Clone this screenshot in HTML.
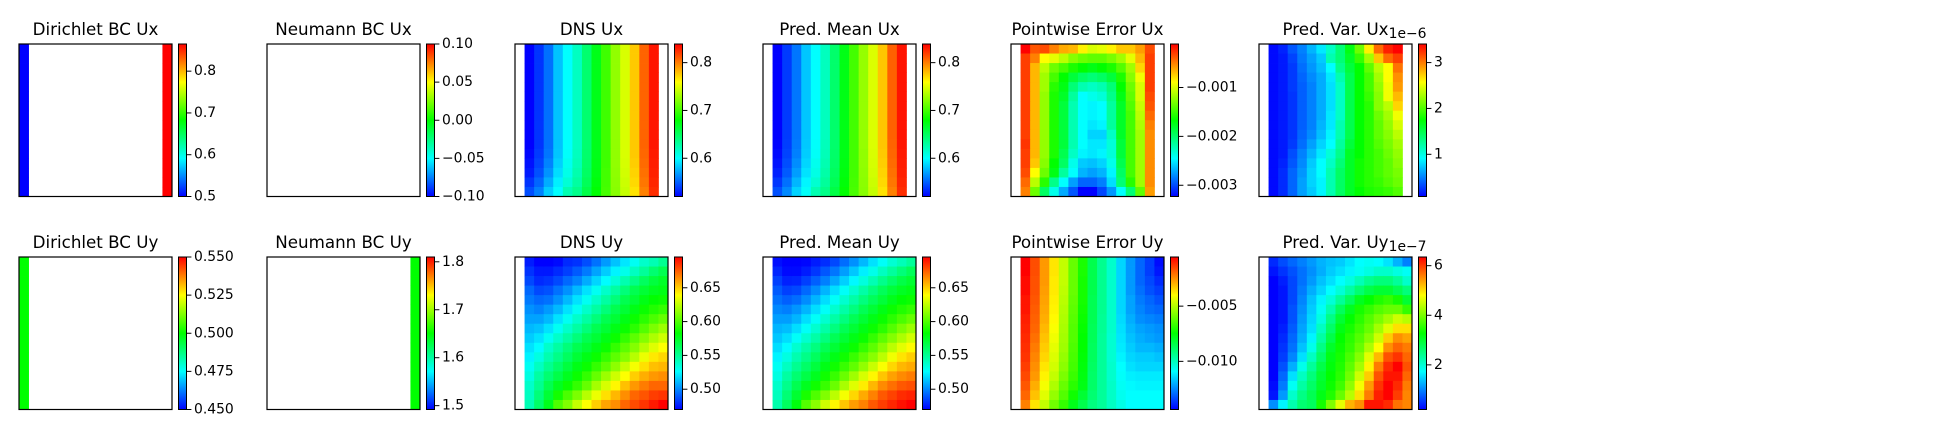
<!DOCTYPE html>
<html><head><meta charset="utf-8">
<style>
html,body{margin:0;padding:0;background:#fff;}
svg{display:block;}
text{font-family:"DejaVu Sans","Liberation Sans",sans-serif;fill:#000;}
</style></head>
<body>
<svg id="fig" width="1936" height="440" viewBox="0 0 1936 440" xmlns="http://www.w3.org/2000/svg">
<defs>
<linearGradient id="cmap" x1="0" y1="1" x2="0" y2="0">
<stop offset="0" stop-color="rgb(0,0,255)"/>
<stop offset="0.25" stop-color="rgb(0,255,255)"/>
<stop offset="0.5" stop-color="rgb(0,255,0)"/>
<stop offset="0.75" stop-color="rgb(255,255,0)"/>
<stop offset="1" stop-color="rgb(255,0,0)"/>
</linearGradient>
</defs>
</svg>
<script>
// ---------- data ----------
const dirichletUxLeft = [0.5,0.5,0.5,0.5,0.5,0.5,0.5,0.5,0.5,0.5,0.5,0.5,0.5,0.5,0.5,0.5];
const dirichletUxRight = [0.865,0.865,0.865,0.865,0.865,0.865,0.865,0.865,0.865,0.865,0.865,0.865,0.865,0.865,0.865,0.865];
const dirichletUyLeft = [0.5,0.5,0.5,0.5,0.5,0.5,0.5,0.5,0.5,0.5,0.5,0.5,0.5,0.5,0.5,0.5];
const neumannUyRight = [1.651,1.651,1.651,1.651,1.651,1.651,1.651,1.651,1.651,1.651,1.651,1.651,1.651,1.651,1.651,1.651];

const dnsUx = [
[null,.520,.536,.555,.581,.600,.619,.645,.672,.699,.725,.747,.776,.808,.832,null],
[null,.520,.536,.555,.581,.600,.619,.645,.672,.699,.725,.747,.776,.808,.832,null],
[null,.520,.536,.555,.581,.600,.619,.645,.672,.699,.725,.747,.776,.808,.832,null],
[null,.520,.536,.555,.581,.600,.619,.645,.672,.699,.725,.747,.776,.808,.832,null],
[null,.520,.536,.555,.581,.600,.619,.645,.672,.699,.725,.747,.776,.808,.832,null],
[null,.520,.536,.555,.581,.600,.619,.645,.672,.699,.725,.747,.776,.808,.832,null],
[null,.520,.536,.555,.581,.600,.619,.645,.672,.699,.725,.747,.776,.808,.832,null],
[null,.520,.536,.555,.581,.600,.619,.645,.672,.699,.725,.747,.776,.808,.832,null],
[null,.520,.536,.555,.581,.600,.619,.645,.672,.699,.725,.747,.776,.808,.832,null],
[null,.520,.536,.555,.581,.600,.619,.645,.672,.699,.725,.747,.776,.808,.832,null],
[null,.520,.536,.555,.581,.600,.619,.645,.672,.699,.725,.747,.776,.808,.832,null],
[null,.522,.538,.557,.582,.601,.620,.646,.672,.699,.725,.747,.776,.807,.831,null],
[null,.525,.541,.561,.585,.604,.622,.647,.673,.699,.725,.746,.775,.806,.830,null],
[null,.528,.545,.566,.589,.607,.625,.649,.674,.700,.724,.745,.773,.804,.829,null],
[null,.536,.552,.574,.595,.613,.629,.652,.676,.700,.723,.743,.771,.802,.827,null],
[null,.544,.560,.584,.600,.624,.636,.657,.679,.701,.722,.741,.768,.799,.825,null]
];
const predUx = [
[null,.520,.538,.557,.582,.600,.620,.646,.673,.700,.726,.748,.777,.809,.833,null],
[null,.520,.538,.557,.582,.600,.620,.646,.673,.700,.726,.748,.777,.809,.833,null],
[null,.520,.538,.557,.582,.600,.620,.646,.673,.700,.726,.748,.777,.809,.833,null],
[null,.520,.538,.557,.582,.600,.620,.646,.673,.700,.726,.748,.777,.809,.833,null],
[null,.520,.538,.557,.582,.600,.620,.646,.673,.700,.726,.748,.777,.809,.833,null],
[null,.520,.538,.557,.582,.600,.620,.646,.673,.700,.726,.748,.777,.809,.833,null],
[null,.520,.538,.557,.582,.600,.620,.646,.673,.700,.726,.748,.777,.809,.833,null],
[null,.520,.538,.557,.582,.600,.620,.646,.673,.700,.726,.748,.777,.809,.833,null],
[null,.520,.538,.557,.582,.600,.620,.646,.673,.700,.726,.748,.777,.809,.833,null],
[null,.520,.538,.557,.582,.600,.620,.646,.673,.700,.726,.748,.777,.809,.833,null],
[null,.521,.539,.558,.583,.601,.621,.646,.673,.700,.726,.748,.777,.808,.832,null],
[null,.523,.541,.560,.584,.602,.622,.647,.673,.700,.725,.747,.776,.807,.831,null],
[null,.526,.544,.564,.587,.605,.624,.648,.674,.700,.725,.746,.775,.806,.830,null],
[null,.530,.548,.569,.591,.608,.627,.650,.675,.700,.724,.745,.773,.804,.829,null],
[null,.537,.555,.577,.597,.614,.631,.653,.677,.701,.723,.743,.771,.802,.827,null],
[null,.545,.563,.586,.602,.624,.637,.658,.680,.702,.722,.741,.768,.799,.825,null]
];
const errUx = [ // units of 1e-3
[null,-0.11,-0.37,-0.34,-0.50,-0.63,-0.67,-0.85,-1.01,-0.97,-0.85,-0.72,-0.72,-0.59,-0.34,null],
[null,-0.30,-0.50,-0.89,-0.97,-1.10,-1.26,-1.34,-1.38,-1.38,-1.30,-1.18,-0.97,-0.67,-0.30,null],
[null,-0.30,-0.67,-1.10,-1.34,-1.46,-1.59,-1.67,-1.73,-1.67,-1.59,-1.42,-1.18,-0.76,-0.30,null],
[null,-0.30,-0.67,-1.18,-1.46,-1.67,-1.85,-1.97,-2.03,-1.97,-1.85,-1.59,-1.26,-0.93,-0.30,null],
[null,-0.30,-0.67,-1.18,-1.55,-1.73,-2.03,-2.21,-2.27,-2.21,-2.03,-1.67,-1.34,-1.01,-0.30,null],
[null,-0.30,-0.67,-1.22,-1.59,-1.79,-2.15,-2.45,-2.39,-2.33,-2.09,-1.73,-1.38,-1.01,-0.34,null],
[null,-0.30,-0.67,-1.22,-1.59,-1.85,-2.21,-2.45,-2.48,-2.45,-2.15,-1.79,-1.42,-1.06,-0.37,null],
[null,-0.30,-0.67,-1.22,-1.59,-1.85,-2.21,-2.45,-2.48,-2.45,-2.15,-1.79,-1.46,-1.10,-0.43,null],
[null,-0.30,-0.67,-1.22,-1.59,-1.85,-2.21,-2.45,-2.52,-2.48,-2.15,-1.79,-1.46,-1.14,-0.50,null],
[null,-0.30,-0.67,-1.22,-1.59,-1.85,-2.21,-2.45,-2.58,-2.58,-2.27,-1.79,-1.46,-1.18,-0.54,null],
[null,-0.27,-0.67,-1.22,-1.59,-1.85,-2.21,-2.45,-2.52,-2.52,-2.33,-1.85,-1.46,-1.18,-0.54,null],
[null,-0.30,-0.67,-1.22,-1.59,-1.91,-2.27,-2.48,-2.52,-2.48,-2.33,-1.85,-1.46,-1.18,-0.54,null],
[null,-0.30,-0.72,-1.26,-1.67,-1.97,-2.39,-2.61,-2.64,-2.58,-2.39,-1.91,-1.46,-1.18,-0.54,null],
[null,-0.34,-0.89,-1.34,-1.73,-2.15,-2.45,-2.68,-2.74,-2.68,-2.48,-1.97,-1.46,-1.18,-0.54,null],
[null,-0.43,-1.10,-1.55,-2.09,-2.45,-2.74,-2.92,-2.92,-2.84,-2.55,-2.03,-1.55,-1.18,-0.54,null],
[null,-0.50,-1.34,-1.97,-2.39,-2.71,-2.97,-3.23,-3.23,-3.02,-2.77,-2.45,-2.03,-1.38,-0.59,null]
];
const varUx = [ // units of 1e-6
[null,0.11,0.19,0.36,0.50,0.67,0.84,1.10,1.36,1.68,2.09,2.62,3.06,3.30,3.40,null],
[null,0.11,0.16,0.30,0.47,0.60,0.74,1.17,1.36,1.62,1.92,2.27,2.76,3.06,3.20,null],
[null,0.11,0.16,0.27,0.44,0.57,0.70,0.91,1.29,1.55,1.74,2.05,2.35,2.57,3.03,null],
[null,0.11,0.16,0.27,0.41,0.53,0.64,0.84,1.17,1.49,1.74,1.96,2.27,2.57,2.94,null],
[null,0.11,0.16,0.27,0.39,0.50,0.64,0.81,1.10,1.49,1.74,1.96,2.22,2.53,2.90,null],
[null,0.11,0.16,0.25,0.39,0.50,0.64,0.81,1.10,1.49,1.74,1.92,2.18,2.53,2.80,null],
[null,0.11,0.16,0.25,0.39,0.50,0.64,0.81,1.10,1.49,1.74,1.87,2.18,2.35,2.71,null],
[null,0.11,0.16,0.25,0.39,0.50,0.64,0.84,1.10,1.49,1.74,1.87,2.09,2.27,2.53,null],
[null,0.11,0.16,0.25,0.39,0.50,0.67,0.84,1.17,1.49,1.74,1.87,2.05,2.22,2.44,null],
[null,0.11,0.16,0.25,0.41,0.53,0.70,0.88,1.17,1.49,1.74,1.87,2.05,2.18,2.35,null],
[null,0.11,0.16,0.27,0.44,0.60,0.77,0.91,1.23,1.55,1.74,1.87,2.01,2.13,2.27,null],
[null,0.11,0.16,0.33,0.50,0.67,0.84,1.04,1.29,1.62,1.74,1.87,1.96,2.09,2.22,null],
[null,0.11,0.19,0.36,0.53,0.74,0.91,1.10,1.36,1.62,1.79,1.87,1.96,2.05,2.18,null],
[null,0.11,0.22,0.41,0.57,0.77,0.91,1.17,1.42,1.62,1.79,1.87,1.96,2.05,2.13,null],
[null,0.11,0.22,0.41,0.60,0.77,0.88,1.17,1.42,1.62,1.79,1.87,1.92,2.01,2.09,null],
[null,0.11,0.22,0.41,0.60,0.74,0.88,1.17,1.42,1.62,1.74,1.83,1.87,1.92,2.01,null]
];
const dnsUy = [
[null,.476,.470,.470,.472,.479,.481,.487,.495,.504,.513,.521,.529,.538,.543,.551],
[null,.481,.475,.475,.479,.484,.490,.497,.506,.515,.524,.531,.540,.549,.558,.565],
[null,.486,.479,.481,.486,.493,.499,.508,.517,.526,.535,.544,.553,.562,.569,.574],
[null,.493,.486,.488,.495,.502,.511,.520,.529,.538,.547,.556,.565,.571,.576,.578],
[null,.497,.493,.495,.502,.511,.520,.529,.538,.547,.556,.565,.571,.578,.583,.585],
[null,.502,.499,.504,.511,.520,.529,.538,.547,.556,.565,.571,.578,.585,.590,.594],
[null,.506,.506,.511,.520,.529,.538,.547,.556,.565,.571,.578,.585,.592,.599,.605],
[null,.511,.513,.520,.529,.538,.547,.556,.565,.571,.578,.585,.592,.601,.610,.617],
[null,.515,.520,.529,.538,.547,.556,.565,.571,.578,.585,.594,.603,.612,.621,.628],
[null,.520,.526,.538,.547,.556,.565,.571,.578,.585,.594,.603,.612,.623,.632,.639],
[null,.524,.533,.544,.553,.562,.571,.578,.585,.594,.603,.612,.623,.635,.644,.648],
[null,.529,.540,.551,.560,.569,.578,.585,.594,.603,.614,.626,.637,.646,.653,.655],
[null,.533,.547,.558,.567,.576,.585,.594,.605,.617,.628,.639,.650,.657,.662,.664],
[null,.538,.551,.565,.576,.585,.594,.605,.619,.630,.641,.653,.662,.668,.673,.673],
[null,.540,.556,.571,.587,.599,.610,.623,.635,.646,.655,.664,.673,.677,.682,.684],
[null,.543,.560,.577,.600,.611,.626,.639,.650,.659,.664,.673,.679,.684,.690,.696]
];
const predUy = [
[null,.473,.470,.470,.471,.476,.480,.486,.494,.502,.511,.520,.528,.536,.542,.549],
[null,.478,.472,.472,.476,.482,.489,.496,.505,.514,.523,.531,.540,.548,.556,.563],
[null,.484,.477,.478,.484,.491,.498,.507,.516,.525,.534,.543,.552,.560,.567,.572],
[null,.490,.484,.486,.493,.501,.510,.519,.528,.537,.546,.555,.563,.570,.575,.578],
[null,.495,.491,.494,.501,.510,.519,.528,.537,.546,.555,.563,.570,.577,.582,.585],
[null,.500,.498,.503,.510,.519,.528,.537,.546,.555,.564,.571,.578,.585,.590,.594],
[null,.505,.505,.510,.519,.528,.537,.546,.555,.564,.571,.578,.585,.592,.599,.605],
[null,.510,.512,.519,.528,.537,.546,.555,.564,.571,.578,.585,.592,.601,.610,.617],
[null,.514,.519,.528,.537,.546,.555,.564,.571,.578,.585,.594,.603,.612,.621,.629],
[null,.519,.526,.537,.546,.555,.564,.571,.578,.585,.594,.603,.613,.624,.633,.640],
[null,.524,.533,.544,.553,.562,.571,.578,.586,.595,.604,.613,.624,.636,.645,.650],
[null,.529,.540,.551,.560,.569,.578,.586,.595,.604,.615,.627,.638,.648,.655,.658],
[null,.533,.547,.558,.567,.576,.586,.595,.606,.618,.630,.641,.652,.660,.665,.668],
[null,.538,.552,.565,.576,.586,.595,.606,.620,.632,.643,.655,.665,.671,.676,.678],
[null,.541,.557,.572,.588,.600,.611,.624,.637,.648,.658,.667,.676,.681,.686,.688],
[null,.545,.562,.580,.601,.613,.628,.641,.652,.661,.667,.676,.682,.687,.692,.696]
];
const errUy = [ // units of 1e-3
[null,-0.55,-1.59,-2.62,-3.66,-4.83,-6.07,-7.11,-8.49,-9.39,-10.22,-11.46,-12.29,-12.98,-13.53,-14.22],
[null,-0.55,-1.59,-2.62,-3.66,-4.83,-6.07,-7.11,-8.49,-9.39,-10.22,-11.46,-12.29,-12.98,-13.53,-14.08],
[null,-0.69,-1.65,-2.62,-3.73,-4.83,-6.07,-7.18,-8.49,-9.39,-10.22,-11.46,-12.29,-12.98,-13.39,-13.81],
[null,-0.69,-1.65,-2.69,-3.73,-4.90,-6.07,-7.18,-8.49,-9.39,-10.22,-11.46,-12.29,-12.84,-13.26,-13.53],
[null,-0.83,-1.72,-2.76,-3.80,-4.97,-6.14,-7.18,-8.56,-9.39,-10.22,-11.46,-12.15,-12.70,-12.98,-13.26],
[null,-0.83,-1.79,-2.83,-3.86,-5.04,-6.21,-7.25,-8.56,-9.39,-10.22,-11.46,-12.15,-12.56,-12.84,-12.98],
[null,-0.96,-1.86,-2.90,-3.93,-5.11,-6.28,-7.32,-8.56,-9.46,-10.22,-11.39,-12.01,-12.43,-12.56,-12.70],
[null,-1.03,-1.93,-3.04,-4.07,-5.18,-6.35,-7.39,-8.63,-9.46,-10.22,-11.32,-11.87,-12.15,-12.29,-12.43],
[null,-1.10,-2.07,-3.17,-4.21,-5.25,-6.35,-7.46,-8.63,-9.53,-10.29,-11.25,-11.74,-12.01,-12.15,-12.29],
[null,-1.17,-2.21,-3.31,-4.35,-5.31,-6.42,-7.46,-8.70,-9.53,-10.29,-11.18,-11.60,-11.87,-11.87,-12.01],
[null,-1.24,-2.35,-3.45,-4.49,-5.45,-6.49,-7.52,-8.70,-9.53,-10.29,-11.05,-11.46,-11.60,-11.60,-11.74],
[null,-1.38,-2.48,-3.66,-4.62,-5.59,-6.56,-7.59,-8.77,-9.53,-10.22,-10.91,-11.32,-11.46,-11.46,-11.46],
[null,-1.52,-2.62,-3.86,-4.83,-5.80,-6.70,-7.66,-8.84,-9.53,-10.22,-10.84,-11.11,-11.18,-11.18,-11.18],
[null,-1.72,-2.90,-4.14,-5.11,-6.07,-6.90,-7.73,-8.84,-9.53,-10.15,-10.77,-10.98,-11.05,-11.05,-11.05],
[null,-1.93,-3.17,-4.42,-5.45,-6.35,-7.25,-8.15,-8.97,-9.53,-10.15,-10.70,-10.91,-10.91,-10.91,-10.91],
[null,-2.28,-3.66,-4.83,-5.94,-6.76,-7.80,-8.49,-9.18,-9.53,-10.08,-10.56,-10.91,-10.91,-10.91,-10.91]
];
const varUy = [ // units of 1e-7
[null,0.45,0.66,0.82,0.97,1.12,1.28,1.37,1.43,1.58,1.74,1.80,1.74,1.58,1.28,0.97],
[null,0.32,0.51,0.69,0.88,1.06,1.25,1.43,1.55,1.68,1.80,1.92,2.05,2.05,1.92,1.80],
[null,0.20,0.38,0.63,0.88,1.12,1.37,1.55,1.74,1.92,2.17,2.41,2.54,2.54,2.35,2.05],
[null,0.20,0.32,0.63,0.94,1.25,1.49,1.74,1.98,2.29,2.60,2.84,2.97,2.97,2.78,2.54],
[null,0.20,0.32,0.63,1.00,1.37,1.68,1.98,2.35,2.72,3.09,3.28,3.46,3.58,3.40,2.97],
[null,0.20,0.32,0.69,1.06,1.43,1.80,2.23,2.72,3.09,3.40,3.58,3.77,3.89,3.89,3.58],
[null,0.20,0.32,0.69,1.12,1.49,1.92,2.48,2.97,3.28,3.52,3.77,4.01,4.26,4.51,4.38],
[null,0.20,0.38,0.75,1.18,1.55,2.11,2.66,3.15,3.40,3.64,3.89,4.26,4.63,5.00,5.00],
[null,0.20,0.45,0.82,1.25,1.68,2.29,2.84,3.28,3.52,3.77,4.07,4.51,5.12,5.49,5.37],
[null,0.20,0.51,0.88,1.37,1.86,2.48,3.03,3.34,3.58,3.89,4.32,4.81,5.49,5.74,5.61],
[null,0.20,0.57,1.00,1.55,2.11,2.66,3.15,3.40,3.71,4.07,4.63,5.24,5.86,6.04,5.74],
[null,0.20,0.69,1.25,1.86,2.35,2.84,3.21,3.46,3.83,4.26,4.87,5.61,6.10,6.35,5.86],
[null,0.20,0.82,1.55,2.11,2.54,2.97,3.28,3.52,3.95,4.51,5.12,5.86,6.23,6.23,5.74],
[null,0.26,0.94,1.80,2.29,2.66,3.03,3.34,3.64,4.14,4.75,5.43,6.04,6.35,6.10,5.61],
[null,0.32,1.12,2.05,2.48,2.78,3.15,3.46,3.89,4.38,5.00,5.61,6.17,6.35,5.98,5.55],
[null,1.06,1.68,2.23,2.60,2.72,3.40,4.04,4.66,5.27,5.49,6.23,6.23,6.10,5.67,5.55]
];

// colorbar ranges and ticks
const tickDirUx = [0.5,0.6,0.7,0.8];
const tickDirUxLabels = ["0.5","0.6","0.7","0.8"];
const tickNeuUx = [-0.10,-0.05,0.00,0.05,0.10];
const tickNeuUxLabels = ["\u22120.10","\u22120.05","0.00","0.05","0.10"];
const tickDnsUx = [0.6,0.7,0.8];
const tickDnsUxLabels = ["0.6","0.7","0.8"];
const tickErrUx = [-3,-2,-1];
const tickErrUxLabels = ["\u22120.003","\u22120.002","\u22120.001"];
const tickVarUx = [1,2,3];
const tickVarUxLabels = ["1","2","3"];
const tickDirUy = [0.450,0.475,0.500,0.525,0.550];
const tickDirUyLabels = ["0.450","0.475","0.500","0.525","0.550"];
const tickNeuUy = [1.5,1.6,1.7,1.8];
const tickNeuUyLabels = ["1.5","1.6","1.7","1.8"];
const tickDnsUy = [0.50,0.55,0.60,0.65];
const tickDnsUyLabels = ["0.50","0.55","0.60","0.65"];
const tickErrUy = [-10,-5];
const tickErrUyLabels = ["\u22120.010","\u22120.005"];
const tickVarUy = [2,4,6];
const tickVarUyLabels = ["2","4","6"];

// ---------- rendering ----------
const NS = "http://www.w3.org/2000/svg";
const svg = document.getElementById('fig');
const LEFTS = [19, 267, 515, 763, 1011, 1259];
const TOPS = [44, 257];
const W = 153, H = 152.5, NR = 16, NC = 16;

function mk(tag, attrs, parent){
  const e = document.createElementNS(NS, tag);
  for (const k in attrs) e.setAttribute(k, attrs[k]);
  (parent||svg).appendChild(e);
  return e;
}
const STOPS = [[0,[0,0,255]],[0.25,[0,255,255]],[0.5,[0,255,0]],[0.75,[255,255,0]],[1,[255,0,0]]];
function cmap(t){
  t = Math.max(0, Math.min(1, t));
  for (let i=1;i<STOPS.length;i++){
    if (t <= STOPS[i][0]){
      const a=STOPS[i-1], b=STOPS[i], f=(t-a[0])/(b[0]-a[0]);
      const c=[0,1,2].map(k=>Math.round(a[1][k]+(b[1][k]-a[1][k])*f));
      return `rgb(${c[0]},${c[1]},${c[2]})`;
    }
  }
  return 'rgb(255,0,0)';
}
function emptyGrid(){ const g=[]; for(let r=0;r<NR;r++){ const row=[]; for(let c=0;c<NC;c++) row.push(null); g.push(row);} return g; }
function placeCol(grid, col, vals){ for(let r=0;r<NR;r++) grid[r][col]=vals[r]; return grid; }

const panels = [
 {key:'dirichlet-ux', title:'Dirichlet BC Ux', col:0, row:0, grid: placeCol(placeCol(emptyGrid(),0,dirichletUxLeft),15,dirichletUxRight), vmin:0.5, vmax:0.865, ticks:tickDirUx, labels:tickDirUxLabels},
 {key:'neumann-ux', title:'Neumann BC Ux', col:1, row:0, grid: emptyGrid(), vmin:-0.1, vmax:0.1, ticks:tickNeuUx, labels:tickNeuUxLabels},
 {key:'dns-ux', title:'DNS Ux', col:2, row:0, grid: dnsUx, vmin:0.52, vmax:0.839, ticks:tickDnsUx, labels:tickDnsUxLabels},
 {key:'pred-mean-ux', title:'Pred. Mean Ux', col:3, row:0, grid: predUx, vmin:0.52, vmax:0.839, ticks:tickDnsUx, labels:tickDnsUxLabels},
 {key:'pointwise-error-ux', title:'Pointwise Error Ux', col:4, row:0, grid: errUx, vmin:-3.23, vmax:-0.11, ticks:tickErrUx, labels:tickErrUxLabels},
 {key:'pred-var-ux', title:'Pred. Var. Ux', col:5, row:0, grid: varUx, vmin:0.08, vmax:3.405, ticks:tickVarUx, labels:tickVarUxLabels, offset:'1e\u22126'},
 {key:'dirichlet-uy', title:'Dirichlet BC Uy', col:0, row:1, grid: placeCol(emptyGrid(),0,dirichletUyLeft), vmin:0.45, vmax:0.55, ticks:tickDirUy, labels:tickDirUyLabels},
 {key:'neumann-uy', title:'Neumann BC Uy', col:1, row:1, grid: placeCol(emptyGrid(),15,neumannUyRight), vmin:1.492, vmax:1.81, ticks:tickNeuUy, labels:tickNeuUyLabels},
 {key:'dns-uy', title:'DNS Uy', col:2, row:1, grid: dnsUy, vmin:0.470, vmax:0.6955, ticks:tickDnsUy, labels:tickDnsUyLabels},
 {key:'pred-mean-uy', title:'Pred. Mean Uy', col:3, row:1, grid: predUy, vmin:0.470, vmax:0.6955, ticks:tickDnsUy, labels:tickDnsUyLabels},
 {key:'pointwise-error-uy', title:'Pointwise Error Uy', col:4, row:1, grid: errUy, vmin:-14.36, vmax:-0.55, ticks:tickErrUy, labels:tickErrUyLabels},
 {key:'pred-var-uy', title:'Pred. Var. Uy', col:5, row:1, grid: varUy, vmin:0.2, vmax:6.35, ticks:tickVarUy, labels:tickVarUyLabels, offset:'1e\u22127'}
];

panels.forEach(p=>{
  const L = LEFTS[p.col], T = TOPS[p.row];
  const g = mk('g', {});
  
  

  const title = mk('text', {x: L + W/2, y: T - 9, 'text-anchor':'middle', 'font-size':'16.7px'}, g);
  title.textContent = p.title;
  
  

  const hm = mk('g', {}, g);
  
  
  const cw = W/NC, ch = H/NR;
  const xPos = c => L + c*cw;
  const yPos = r => T + r*ch;
  const norm = v => (v - p.vmin)/(p.vmax - p.vmin);
  for (let r=0;r<p.grid.length;r++){
    for (let c=0;c<p.grid[r].length;c++){
      const v = p.grid[r][c];
      if (v === null || v === undefined) continue;
      const cell = mk('rect', {x: xPos(c), y: yPos(r), width: cw+0.4, height: ch+0.4, fill: cmap(norm(v))}, hm);
      
      
    }
  }
  const frame = mk('rect', {x:L, y:T, width:W, height:H, fill:'none', stroke:'#000', 'stroke-width':1.2}, g);
  
  

  // colorbar
  const cbx = L + 159.5, cbw = 8;
  const cb = mk('g', {}, g);
  
  
  mk('rect', {x:cbx, y:T, width:cbw, height:H, fill:'url(#cmap)', stroke:'#000', 'stroke-width':1}, cb);
  const yTick = v => T + (p.vmax - v)/(p.vmax - p.vmin)*H;
  p.ticks.forEach((v,i)=>{
    const y = yTick(v);
    const tk = mk('line', {x1:cbx+cbw, x2:cbx+cbw+4.9, y1:y, y2:y, stroke:'#000', 'stroke-width':1}, cb);
    
    
    const lb = mk('text', {x:cbx+cbw+7.5, y:y, 'font-size':'13.9px', 'dominant-baseline':'central'}, cb);
    lb.textContent = p.labels[i];
    
    
  });
  if (p.offset){
    const ot = mk('text', {x: cbx+cbw, y: T - 6, 'text-anchor':'end', 'font-size':'13.9px'}, cb);
    ot.textContent = p.offset;
    
    
  }
});
</script>
</body></html>
